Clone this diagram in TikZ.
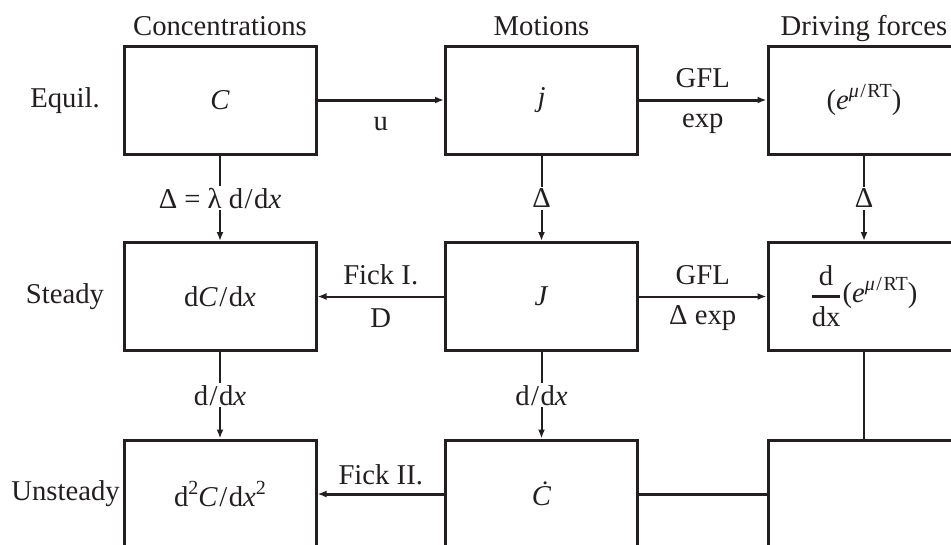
\documentclass[tikz,border=0pt]{standalone}
\usepackage{amsmath}
\usepackage{fontspec}
\setmainfont{Liberation Serif}
\usetikzlibrary{arrows.meta}
\definecolor{ink}{HTML}{231F20}
\newcommand\sps[1]{\raisebox{0.42em}{\fontsize{20}{20}\selectfont #1}}
\newcommand\myslash{\kern1.5pt/\kern1.5pt}
\begin{document}
\begin{tikzpicture}[x=1pt,y=-1pt,
  font=\fontsize{28.7}{32}\selectfont, color=ink,
  box/.style={draw, line width=3pt, minimum width=192pt, minimum height=108pt, inner sep=0pt},
  thickarr/.style={line width=3pt, -{Latex[length=9pt,width=7pt]}},
  thinarr/.style={line width=2pt, -{Latex[length=9pt,width=7pt]}},
  varr/.style={line width=2pt, -{Latex[length=9pt,width=7pt]}},
  plain/.style={line width=3pt},
  vlbl/.style={fill=white, inner sep=2pt},
  blbl/.style={anchor=base, inner sep=0pt}]
\useasboundingbox (0,0) rectangle (951,544);
\clip (0,0) rectangle (951,544);
% boxes
\node[box] (C1) at (220,100) {\textit{C}};
\node[box] (M1) at (541.5,100) {\textit{j}};
\node[box] (F1) at (864,100) {(\textit{e}\sps{\textit{μ}\myslash RT})};
\node[box] (C2) at (220,296.5) {d\textit{C}\myslash d\textit{x}};
\node[box] (M2) at (541.5,296.5) {\textit{J}};
\node[box] (F2) at (864,296.5) {$\displaystyle\genfrac{}{}{3pt}{}{\mbox{d}}{\mbox{dx}}$\kern1pt(\textit{e}\sps{\textit{μ}\myslash RT})};
\node[box] (C3) at (220,494) {d\sps{2}\textit{C}\myslash d\textit{x}\sps{2}};
\node[box] (M3) at (541.5,494) {\textit{\.C}};
\node[box] (F3) at (864,494) {};
% headings
\node[blbl] (h1) at (220,35) {Concentrations};
\node[blbl] (h2) at (541.5,35) {Motions};
\node[blbl] (h3) at (864,35) {Driving forces};
\node[blbl] (r1) at (65,107) {Equil.};
\node[blbl] (r2) at (65,303) {Steady};
\node[blbl] (r3) at (65.5,500) {Unsteady};
% row 1
\draw[thickarr] (C1.east) -- (M1.west) node[midway, blbl, yshift=-30pt] {u};
\draw[thickarr] (M1.east) -- (F1.west)
  node[midway, blbl, yshift=13pt] {GFL}
  node[midway, blbl, yshift=-27pt] {exp};
% row 2
\draw[thinarr] (M2.west) -- (C2.east)
  node[midway, blbl, yshift=12pt] {Fick I.}
  node[midway, blbl, yshift=-31pt] {D};
\draw[thinarr] (M2.east) -- (F2.west)
  node[midway, blbl, yshift=12pt] {GFL}
  node[midway, blbl, yshift=-28pt] {Δ exp};
% row 3
\draw[thickarr] (M3.west) -- (C3.east)
  node[midway, blbl, yshift=10pt] {Fick II.};
\draw[plain] (M3.east) -- (F3.west);
% verticals
\draw[varr] (C1.south) -- (C2.north) node[midway, vlbl] {Δ = λ d\myslash d\textit{x}};
\draw[varr] (M1.south) -- (M2.north) node[midway, vlbl] {Δ};
\draw[varr] (F1.south) -- (F2.north) node[midway, vlbl] {Δ};
\draw[varr] (C2.south) -- (C3.north) node[midway, vlbl] {d\myslash d\textit{x}};
\draw[varr] (M2.south) -- (M3.north) node[midway, vlbl] {d\myslash d\textit{x}};
\draw[line width=2pt] (F2.south) -- (F3.north);
\end{tikzpicture}
\end{document}
